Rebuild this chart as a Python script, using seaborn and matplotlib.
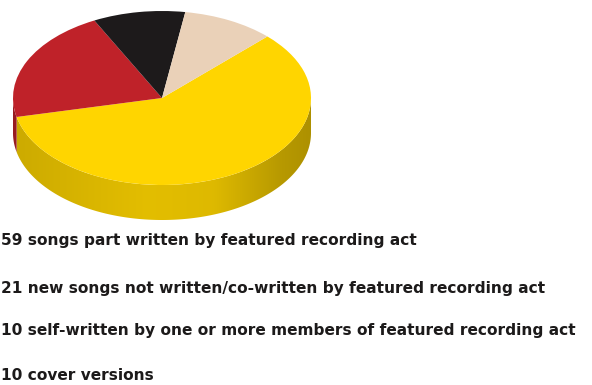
import numpy as np
import matplotlib
matplotlib.use("Agg")
import matplotlib.pyplot as plt
from matplotlib.colors import to_rgb
import seaborn as sns

# Song counts by authorship, in drawing order
song_counts = [59, 21, 10, 10]
labels = [
    "59 songs part written by featured recording act",
    "21 new songs not written/co-written by featured recording act",
    "10 self-written by one or more members of featured recording act",
    "10 cover versions",
]
slice_colors = ["#FFD500", "#BF2229", "#1D1A1B", "#EAD1B8"]
label_rows_px = [240, 288, 331, 375]

sns.set_theme(style="white")
plt.rcParams["font.family"] = ["DejaVu Sans"]

W, H = 592, 385
CX, CY, RX, RY = 162, 98, 149, 87
DEPTH = 35 / RY
START = 45

fig = plt.figure(figsize=(W / 100, H / 100), dpi=100, facecolor="white")
ax = fig.add_axes([0, 0, 1, 1])

ax.pie(song_counts, colors=slice_colors, startangle=START, counterclock=False,
       radius=1, wedgeprops={"linewidth": 0})
ax.set_aspect("auto")
xlim = (-CX / RX, (W - CX) / RX)
ylim = ((CY - H) / RY, CY / RY)

# Rim brightness across the disc: lit at the front, falling off to the right
shade_x = np.linspace(-1, 1, 200)
shade = np.interp(shade_x, [-1, -0.7, -0.1, 0.35, 0.8, 1],
                  [0.80, 0.83, 0.89, 0.87, 0.72, 0.68])

# Rim of the disc: the part of each slice facing the viewer
edges = START - np.cumsum([0] + song_counts) / sum(song_counts) * 360
for hi, lo, color in zip(edges[:-1], edges[1:], slice_colors):
    for shift in (0, -360, 360):
        a0, a1 = max(lo + shift, 180), min(hi + shift, 360)
        if a1 <= a0:
            continue
        t = np.radians(np.linspace(a0, a1, 200))
        rim = ax.fill_between(np.cos(t), np.sin(t) - DEPTH, np.sin(t),
                              facecolor="none", linewidth=0, zorder=-2)
        gradient = shade[None, :, None] * np.array(to_rgb(color))[None, None, :]
        img = ax.imshow(gradient, extent=(-1, 1, -1 - DEPTH, 1), aspect="auto",
                        interpolation="bilinear", zorder=-1)
        img.set_clip_path(rim.get_paths()[0], transform=ax.transData)

ax.set_aspect("auto")
ax.set_xlim(xlim)
ax.set_ylim(ylim)
ax.axis("off")

for text, row in zip(labels, label_rows_px):
    fig.text(1 / W, 1 - row / H, text, fontsize=11.05, fontweight="bold",
             color="#1c1a1a", va="center", ha="left")

fig.savefig("out.png", dpi=100, facecolor="white")
